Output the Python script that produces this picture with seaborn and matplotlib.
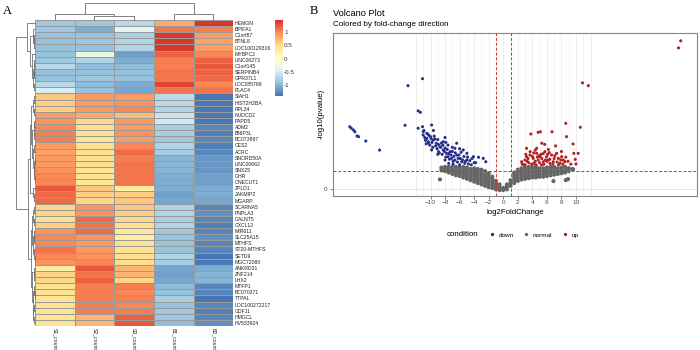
import matplotlib
matplotlib.use("Agg")
import matplotlib.pyplot as plt
from matplotlib.colors import LinearSegmentedColormap
from matplotlib.lines import Line2D
import seaborn as sns
import numpy as np
import pandas as pd

plt.rcParams['font.family'] = ['Liberation Sans', 'DejaVu Sans']

# ---------------- heatmap data (row z-scores) ----------------
genes = ["HEMGN", "BPIFA1", "C1orf87", "BTNL8", "LOC100129316", "MYBPC2", "LINC00273",
         "C1orf145", "SERPINB4", "GPR37L1", "LOC285768", "PLAC4", "SIAH1", "HIST2H2BA",
         "RPL34", "NUDCD2", "PAPD5", "ADM2", "BNIP3L", "BC073897", "CES2", "ACRC",
         "SNORD50A", "LINC00662", "SNX25", "GHR", "ONECUT1", "ZPLD1", "JAKMIP2", "MGARP",
         "SCARNA5", "PNPLA3", "GALNT5", "CXCL12", "MIR611", "SLC25A15", "MTHFS",
         "ST20-MTHFS", "SETD9", "MGC72080", "ANKRD31", "ZNF214", "LHX2", "MTFP1",
         "BC070371", "TTPAL", "LOC100272217", "GDF11", "HMGCL", "HV533924"]
samples = ["S1_count", "S2_count", "S3_count", "B1_count", "B2_count"]
zscores = [
    [-0.85, -0.85, -0.70, 0.80, 1.42],
    [-0.85, -1.05, -0.40, 1.10, 1.05],
    [-0.90, -0.90, -0.80, 1.42, 0.90],
    [-0.90, -0.85, -0.75, 1.42, 0.85],
    [-0.90, -0.90, -0.75, 1.42, 0.88],
    [-0.90, -0.30, -1.15, 1.20, 1.00],
    [-0.85, -0.75, -1.05, 1.05, 1.20],
    [-0.70, -0.95, -0.95, 1.05, 1.25],
    [-0.90, -0.90, -0.90, 1.10, 1.20],
    [-0.90, -0.85, -0.90, 1.10, 1.15],
    [-0.70, -0.95, -1.05, 1.35, 1.00],
    [-0.50, -0.90, -1.10, 1.10, 1.10],
    [0.65, 0.90, 0.90, -0.70, -1.40],
    [0.60, 0.90, 0.95, -0.70, -1.40],
    [0.60, 0.90, 1.00, -0.75, -1.38],
    [0.90, 0.80, 0.70, -0.60, -1.40],
    [0.95, 0.55, 0.90, -0.55, -1.40],
    [1.00, 0.50, 0.90, -0.80, -1.30],
    [1.05, 0.45, 0.95, -0.80, -1.35],
    [1.05, 0.45, 0.90, -0.85, -1.30],
    [0.90, 0.50, 1.00, -0.75, -1.35],
    [0.85, 0.50, 1.15, -0.80, -1.30],
    [0.90, 0.50, 1.05, -1.00, -1.20],
    [0.90, 0.50, 1.10, -1.00, -1.20],
    [0.95, 0.45, 1.10, -1.00, -1.20],
    [1.00, 0.45, 1.10, -1.05, -1.15],
    [1.00, 0.40, 1.10, -1.05, -1.15],
    [1.25, 0.65, 0.30, -1.05, -1.05],
    [1.15, 0.60, 0.60, -1.15, -1.05],
    [1.15, 0.55, 0.65, -1.10, -1.10],
    [0.55, 0.95, 0.65, -0.75, -1.30],
    [0.55, 0.95, 0.60, -0.75, -1.25],
    [0.50, 1.15, 0.55, -0.80, -1.30],
    [0.60, 1.10, 0.50, -0.75, -1.35],
    [0.95, 1.15, 0.40, -0.85, -1.30],
    [1.00, 0.95, 0.30, -0.90, -1.25],
    [1.00, 0.90, 0.50, -0.90, -1.30],
    [1.10, 0.90, 0.45, -0.90, -1.30],
    [1.00, 0.95, 0.50, -0.75, -1.42],
    [0.95, 1.00, 0.50, -0.80, -1.38],
    [0.30, 1.25, 0.75, -1.10, -1.05],
    [0.55, 1.10, 0.75, -1.15, -1.00],
    [0.55, 1.20, 0.55, -1.10, -1.00],
    [0.45, 1.05, 1.05, -0.95, -1.30],
    [0.45, 1.05, 1.00, -0.90, -1.30],
    [0.45, 1.05, 1.05, -0.80, -1.40],
    [0.45, 1.05, 1.00, -0.90, -1.30],
    [0.45, 1.05, 1.05, -0.85, -1.35],
    [0.45, 0.75, 1.20, -0.85, -1.30],
    [0.45, 0.75, 1.25, -0.95, -1.25],
]

# dendrograms: [merge height, left, right], leaves are row / column indices
row_tree = [19.4,
            [8.3, 0,
             [5.0,
              [2.5, 1, [1.5, [0.6, 2, 3], 4]],
              [3.5, 5, [2.5, [1.2, [0.6, 6, 7], [0.6, 8, 9]], [1.5, 10, 11]]]]],
            [7.3,
             [5.0,
              [4.0,
               [1.8, [0.8, 12, 13], [0.8, 14, 15]],
               [2.8, [1.5, [0.7, 16, 17], [0.7, 18, 19]],
                [2.0, [0.9, 20, 21], [1.2, [0.5, 22, 23], [0.8, 24, [0.4, 25, 26]]]]]],
              [2.2, 27, [0.9, 28, 29]]],
             [4.5,
              [3.0, [1.6, [0.7, 30, 31], [1.0, 32, 33]],
               [2.0, [1.0, 34, [0.6, 35, 36]], [1.2, 37, [0.5, 38, 39]]]],
              [3.5, [1.4, 40, [0.7, 41, 42]],
               [2.4, [1.0, 43, [0.5, 44, 45]], [1.6, [0.6, 46, 47], [0.9, 48, 49]]]]]]]
col_tree = [16.7, [6.0, 0, [4.0, 1, 2]], [6.0, 3, 4]]

# ---------------- volcano data ----------------
down_x = [-21.1, -20.9, -20.6, -20.4, -20.1, -19.9, -18.9, -17.0, -13.5, -13.1, -11.1, -11.7,
          -11.4, -11.7, -11.1, -11.0, -10.5, -9.85,
          -11.0, -10.5, -10.3, -10.1, -9.6, -9.2, -8.7, -8.25, -7.8, -7.6, -7.1, -6.65, -6.2,
          -5.7, -5.3, -4.8, -7.6, -6.65, -6.4, -5.5, -5.0, -4.1, -6.4, -8.0, -8.9, -9.85,
          -8.25, -7.3,
          -10.8, -10.2, -9.9, -9.5, -9.3, -10.6, -9.0, -8.5, -8.0, -7.9, -7.5, -6.9, -6.0,
          -4.4, -5.0, -3.8, -3.4, -2.75, -2.4,
          -10.9, -10.7, -10.4, -10.0, -9.8, -9.7, -9.4, -9.1, -8.9, -8.8, -8.6, -8.4, -8.3,
          -8.1, -7.9, -7.7, -7.5, -7.4, -7.2, -7.0, -6.9, -6.8, -6.6, -6.3, -6.1, -5.9, -5.8,
          -5.6, -5.4, -5.2, -4.9, -4.6, -4.3, -4.0, -9.6, -8.0, -7.0, -6.0, -10.3, -9.0]
down_y = [4.47, 4.36, 4.24, 4.11, 3.81, 3.76, 3.45, 2.8, 4.57, 7.4, 7.9, 5.6,
          5.5, 4.36, 4.47, 4.11, 4.0, 4.59,
          3.88, 3.64, 3.4, 3.16, 3.52, 3.29, 3.04, 2.81, 2.57, 2.33, 2.21, 2.09, 2.21,
          1.97, 1.86, 1.81, 3.16, 2.93, 3.29, 2.81, 2.57, 2.33, 2.45, 2.09, 2.69, 2.81,
          3.4, 2.69,
          3.7, 3.85, 3.6, 3.8, 3.1, 3.25, 3.55, 3.3, 2.95, 3.35, 1.85, 1.8, 1.75,
          1.75, 2.1, 1.9, 2.29, 2.21, 1.97,
          4.2, 3.5, 3.95, 3.75, 3.35, 3.0, 3.6, 2.9, 3.2, 2.6, 3.0, 2.5, 3.15,
          2.7, 2.3, 2.85, 2.55, 2.15, 2.45, 2.7, 2.0, 2.35, 2.6, 1.95, 2.45, 2.2, 2.65,
          2.1, 2.35, 2.0, 2.3, 2.05, 2.2, 1.9, 4.2, 3.7, 3.0, 2.9, 3.3, 2.5]
up_x = [24.4, 24.1, 10.9, 11.7, 8.6, 10.6, 3.8, 4.8, 5.1, 6.7, 8.7, 5.3, 5.7, 3.2, 3.7,
        9.6, 9.7, 10.3, 9.9, 10.0,
        2.53, 2.98, 3.2, 3.67, 4.13, 4.6, 4.81, 5.05, 5.5, 5.73, 5.96, 6.19, 6.42, 6.65,
        6.88, 7.34, 7.57, 7.8, 8.03, 8.25, 8.48, 4.22, 5.28, 6.33, 4.6,
        2.6, 3.3, 3.0, 3.5, 4.4, 4.9, 5.3, 6.0, 7.0, 7.6, 8.9, 9.3, 4.2, 5.5, 6.2, 7.2, 8.0,
        2.8, 3.4, 3.9, 4.0, 4.5, 4.7, 5.0, 5.2, 5.6, 5.8, 6.1, 6.4, 6.8, 7.1, 7.4, 7.9,
        8.2, 8.6, 3.1, 4.4]
up_y = [10.6, 10.1, 7.6, 7.4, 4.71, 4.43, 3.95, 4.07, 4.11, 4.11, 3.76, 3.29, 3.21, 2.93, 2.69,
        3.24, 2.57, 2.57, 2.14, 1.81,
        1.97, 2.09, 2.33, 2.45, 2.21, 2.57, 2.09, 2.33, 1.97, 2.69, 2.33, 2.09, 1.86, 2.45,
        1.97, 2.57, 2.21, 1.86, 2.33, 2.09, 1.97, 1.86, 1.74, 2.62, 2.93,
        1.8, 2.0, 1.75, 1.9, 2.0, 2.4, 2.2, 2.0, 2.2, 1.75, 2.0, 1.8, 2.6, 2.55, 2.85, 3.1, 2.7,
        1.75, 2.2, 1.8, 2.35, 1.75, 2.3, 1.9, 2.5, 1.8, 2.1, 2.5, 2.15, 1.8, 2.4, 1.95, 2.1,
        1.8, 2.3, 2.5, 2.8]
# non-significant genes, listed per log2FC column
normal_cols = {
    -8.7: [0.71], -8.5: [1.35, 1.55], -8.0: [1.3, 1.45, 1.6], -7.5: [1.2, 1.4, 1.6],
    -7.0: [1.1, 1.3, 1.5, 1.6], -6.5: [1.0, 1.2, 1.4, 1.6], -6.0: [0.95, 1.15, 1.35, 1.55],
    -5.5: [0.85, 1.05, 1.25, 1.45, 1.6], -5.0: [0.75, 0.95, 1.15, 1.35, 1.55],
    -4.5: [0.65, 0.85, 1.05, 1.25, 1.45], -4.0: [0.55, 0.75, 0.95, 1.15, 1.35, 1.5],
    -3.5: [0.45, 0.65, 0.85, 1.05, 1.25, 1.45], -3.0: [0.35, 0.55, 0.75, 0.95, 1.15, 1.4],
    -2.5: [0.25, 0.45, 0.65, 0.85, 1.05, 1.3], -2.0: [0.15, 0.35, 0.55, 0.75, 0.95, 1.15],
    -1.5: [0.1, 0.3, 0.5, 0.7, 0.9], -1.0: [0.0, 0.2, 0.4, 0.6], -0.5: [-0.05, 0.15, 0.35],
    0.0: [-0.05, 0.1], 0.5: [0.0, 0.2, 0.35], 1.0: [0.25, 0.45, 0.65],
    1.5: [0.45, 0.65, 0.85, 1.05, 1.2], 2.0: [0.6, 0.8, 1.0, 1.2, 1.4],
    2.5: [0.7, 0.9, 1.1, 1.3, 1.5], 3.0: [0.75, 0.95, 1.15, 1.35, 1.55],
    3.5: [0.8, 1.0, 1.2, 1.4, 1.6], 4.0: [0.85, 1.05, 1.25, 1.45, 1.6],
    4.5: [0.85, 1.05, 1.25, 1.45, 1.6], 5.0: [0.9, 1.1, 1.3, 1.5], 5.5: [0.9, 1.1, 1.3, 1.5],
    6.0: [0.95, 1.15, 1.35, 1.55], 6.5: [1.0, 1.2, 1.4, 1.6], 6.9: [0.59],
    7.0: [1.05, 1.25, 1.45, 1.6], 7.5: [1.1, 1.3, 1.5], 8.0: [1.15, 1.35, 1.55],
    8.5: [1.2, 1.4, 1.6], 8.6: [0.66], 8.9: [0.73], 9.0: [1.3, 1.5], 9.5: [1.45], 9.6: [1.43],
}
x_breaks = [-10, -8, -6, -4, -2, 0, 2, 4, 6, 8, 10]

# ---------------- figure ----------------
W, H = 700, 350
fig = plt.figure(figsize=(7, 3.5), dpi=100)


def px_axes(x0, y0, x1, y1):
    return fig.add_axes([x0 / W, 1 - y1 / H, (x1 - x0) / W, (y1 - y0) / H])


def tree_lines(node, out):
    if isinstance(node, int):
        return node + 0.5, 0.0
    h, left, right = node
    pl, hl = tree_lines(left, out)
    pr, hr = tree_lines(right, out)
    out.append(([pl, pl, pr, pr], [hl, h, h, hr]))
    return (pl + pr) / 2, h


hm = pd.DataFrame(zscores, index=genes, columns=samples)
cmap = LinearSegmentedColormap.from_list(
    "rdylbu7", ["#4575B4", "#91BFDB", "#E0F3F8", "#FFFFBF", "#FEE090", "#FC8D59", "#D73027"])

ax_hm = px_axes(35, 20, 233.3, 326)
ax_cb = px_axes(275, 20, 282.7, 96)
sns.heatmap(hm, ax=ax_hm, cbar_ax=ax_cb, cmap=cmap, vmin=-1.42, vmax=1.46,
            linewidths=0.4, linecolor="#9a9a9a", xticklabels=True, yticklabels=True)
ax_hm.set_xlabel("")
ax_hm.set_ylabel("")
ax_hm.yaxis.tick_right()
ax_hm.tick_params(axis="y", length=0, pad=1.2, labelsize=3.7, labelrotation=0,
                  labelcolor="#222222")
ax_hm.tick_params(axis="x", length=0, pad=1.5, labelsize=3.7, labelrotation=270,
                  labelcolor="#222222")
cb = ax_hm.collections[0].colorbar
cb.outline.set_visible(False)
cb.set_ticks([-1, -0.5, 0, 0.5, 1])
cb.set_ticklabels(["-1", "-0.5", "0", "0.5", "1"])
ax_cb.tick_params(length=0, pad=1, labelsize=4.5, labelcolor="#333333")

# row dendrogram
ax_rd = px_axes(14, 20, 35, 326)
segs = []
tree_lines(row_tree, segs)
for pos, hts in segs:
    ax_rd.plot(hts, pos, color="#6e6e6e", lw=0.6, clip_on=False)
ax_rd.set_xlim(21.0, 0)
ax_rd.set_ylim(len(genes), 0)
ax_rd.axis("off")

# column dendrogram
ax_cd = px_axes(35, 0, 233.3, 20)
segs = []
tree_lines(col_tree, segs)
for pos, hts in segs:
    ax_cd.plot(pos, hts, color="#6e6e6e", lw=0.6, clip_on=False)
ax_cd.set_xlim(0, len(samples))
ax_cd.set_ylim(0, 20)
ax_cd.axis("off")

# ---------------- volcano ----------------
nx, ny = [], []
for x, ys in normal_cols.items():
    for y in ys:
        nx.append(x)
        ny.append(y)
vdf = pd.concat([
    pd.DataFrame({"log2FoldChange": nx, "logp": ny, "condition": "normal"}),
    pd.DataFrame({"log2FoldChange": down_x, "logp": down_y, "condition": "down"}),
    pd.DataFrame({"log2FoldChange": up_x, "logp": up_y, "condition": "up"}),
], ignore_index=True)
colors = {"down": "#27318C", "normal": "#666666", "up": "#B22222"}

ax_v = px_axes(332.7, 33.3, 696.7, 195.5)
for v in range(-12, 13):
    ax_v.axvline(v, color="#EBEBEB" if v % 2 == 0 else "#F3F3F3", lw=0.6, zorder=0)
ax_v.axhline(0, color="#E3E3E3", lw=0.6, zorder=0)
sns.scatterplot(data=vdf, x="log2FoldChange", y="logp", hue="condition", size="condition",
                sizes={"normal": 9, "down": 5, "up": 5}, palette=colors, linewidth=0,
                legend=False, ax=ax_v, zorder=2)
dash = dict(color="#C8372D", lw=0.7, ls=(0, (3, 2)), zorder=3)
ax_v.axvline(-1, **dash)
ax_v.axvline(1, **dash)
ax_v.axhline(1.3, **dash)
ax_v.set_xlim(-23.45, 26.6)
ax_v.set_ylim(-0.44, 11.14)
ax_v.set_xticks(x_breaks)
ax_v.set_yticks([0])
ax_v.tick_params(length=2.0, width=0.5, color="#555555", pad=1.5, labelsize=4.6,
                 labelcolor="#4D4D4D")
ax_v.set_xlabel("")
ax_v.set_ylabel("")
for sp in ax_v.spines.values():
    sp.set_color("#858585")
    sp.set_linewidth(0.8)

fig.text(515 / W, 1 - 212 / H, "log2FoldChange", fontsize=5.7, ha="center", va="center")
fig.text(321 / W, 1 - 114 / H, "-log10(pvalue)", fontsize=5.7, ha="center", va="center",
         rotation=90)
fig.text(333 / W, 1 - 13 / H, "Volcano Plot", fontsize=6.7, ha="left", va="center")
fig.text(333 / W, 1 - 25 / H, "Colored by fold-change direction", fontsize=5.8,
         ha="left", va="center")

fig.text(447 / W, 1 - 235 / H, "condition", fontsize=5.7, ha="left", va="center")
handles = [Line2D([], [], ls="", marker="o", markersize=2.4, markeredgewidth=0,
                  color=colors[k]) for k in ["down", "normal", "up"]]
fig.legend(handles, ["down", "normal", "up"], loc="center left",
           bbox_to_anchor=(489 / W, 1 - 235 / H), ncol=3, frameon=False, fontsize=4.6,
           handlelength=1.0, handletextpad=0.55, columnspacing=1.4, borderpad=0,
           borderaxespad=0)

fig.text(3 / W, 1 - 11 / H, "A", fontsize=9, family="Liberation Serif", va="center")
fig.text(310 / W, 1 - 11 / H, "B", fontsize=9, family="Liberation Serif", va="center")

fig.savefig("out.png", dpi=100)
